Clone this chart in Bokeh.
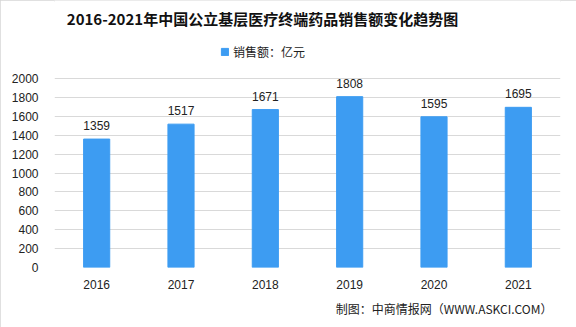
from bokeh.plotting import figure
from bokeh.models import ColumnDataSource, Label, LabelSet, Range1d, FixedTicker, Title, Legend, LegendItem
from bokeh.core.properties import value
from bokeh.embed import file_html
from bokeh.resources import INLINE

years = ["2016", "2017", "2018", "2019", "2020", "2021"]
sales = [1359, 1517, 1671, 1808, 1595, 1695]
y_ticks = [0, 200, 400, 600, 800, 1000, 1200, 1400, 1600, 1800, 2000]

title_text = "2016-2021年中国公立基层医疗终端药品销售额变化趋势图"
legend_text = "销售额：亿元"
footer_text = "制图：中商情报网（WWW.ASKCI.COM）"

BLUE = "#3d9cf2"
FONT = "Noto Sans CJK SC"
NUMFONT = "Liberation Sans"

# frame runs to the top of the canvas; the 2000 gridline sits 189px above the baseline
FRAME_H = 267
Y_END = 2000 * FRAME_H / 189

src = ColumnDataSource(dict(x=years, y=sales, lab=[str(v) for v in sales]))

p = figure(width=576, height=327, x_range=years, y_range=Range1d(0, Y_END),
           output_backend="svg", toolbar_location=None,
           min_border_left=54, min_border_right=16, min_border_top=0, min_border_bottom=60)
p.outline_line_color = None
p.background_fill_color = "white"
p.border_fill_color = "white"
p.styles = {"outline": "2px solid #d6d6d6", "outline-offset": "-2px"}

r = p.vbar(x="x", top="y", width=0.31, source=src, color=BLUE)

labels = LabelSet(x="x", y="y", text="lab", source=src, text_align="center",
                  text_baseline="bottom", y_offset=9, text_font_size=value("12px"),
                  text_font=value(NUMFONT), text_color="#222222")
p.add_layout(labels)

p.xaxis.axis_line_color = None
p.xaxis.major_tick_line_color = None
p.xaxis.minor_tick_line_color = None
p.xaxis.major_label_text_font_size = "12px"
p.xaxis.major_label_text_font = NUMFONT
p.xaxis.major_label_text_color = "#222222"
p.xaxis.major_label_standoff = 6
p.xgrid.grid_line_color = None

p.yaxis.ticker = FixedTicker(ticks=y_ticks)
p.yaxis.axis_line_color = None
p.yaxis.major_tick_line_color = None
p.yaxis.minor_tick_line_color = None
p.yaxis.major_label_text_font_size = "12px"
p.yaxis.major_label_text_font = NUMFONT
p.yaxis.major_label_text_color = "#222222"
p.yaxis.major_label_standoff = 10
p.ygrid.grid_line_color = "#d9d9d9"
p.ygrid.grid_line_width = 1

t = Label(x=208, y=FRAME_H - 18, x_units="screen", y_units="screen", text=title_text,
          text_align="center", text_baseline="middle", text_font=FONT,
          text_font_size="15px", text_font_style="bold", text_color="#111111")
p.add_layout(t)

legend = Legend(items=[LegendItem(label=legend_text, renderers=[r])],
                orientation="horizontal", location=(166, FRAME_H - 60),
                label_text_font=FONT, label_text_font_size="12px",
                label_text_color="#222222", border_line_color=None,
                glyph_width=9, glyph_height=9, padding=0, margin=0,
                label_standoff=4, background_fill_alpha=0)
p.add_layout(legend)

f = Title(text=footer_text, align="right", text_font=FONT, text_font_size="12px",
          text_font_style="normal", text_color="#222222", offset=8, standoff=12)
p.add_layout(f, "below")

open("out.html", "w").write(file_html(p, INLINE))
